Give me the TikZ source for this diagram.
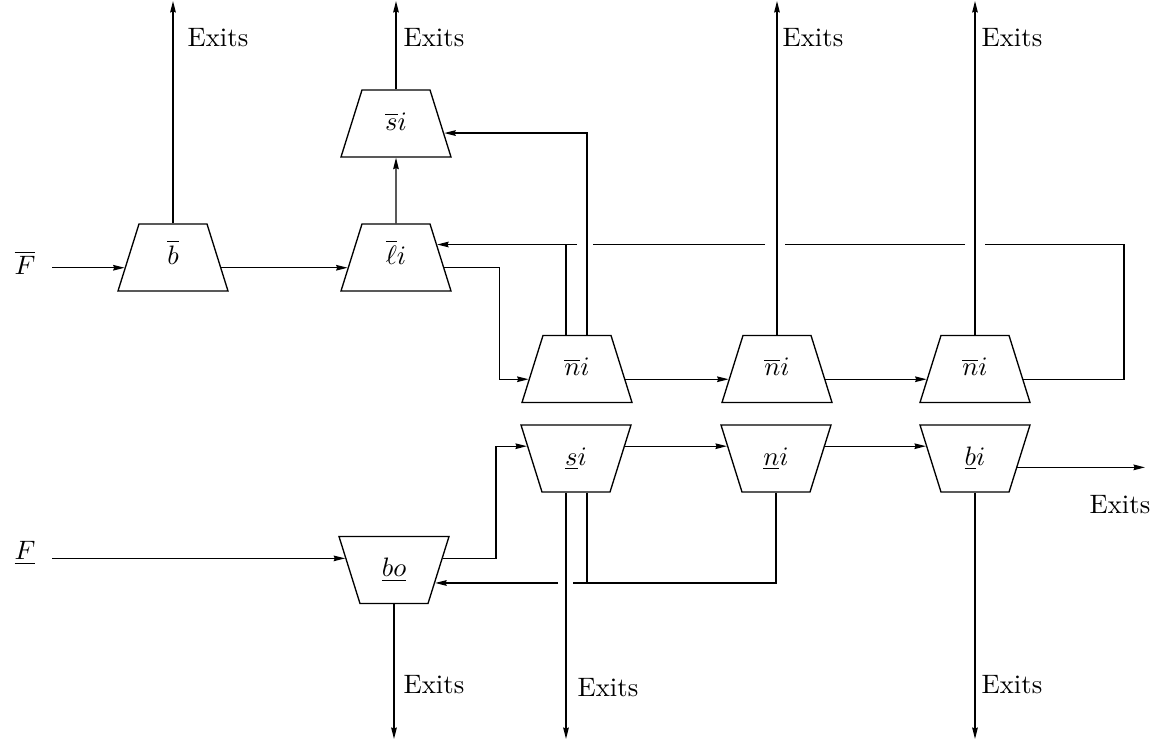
\documentclass[tikz,border=0pt]{standalone}
\usetikzlibrary{shapes.geometric,calc,arrows.meta}
\tikzset{
  upbox/.style={draw,trapezium,trapezium left angle=72.6,trapezium right angle=72.6,trapezium stretches body=true,minimum width=41.25pt,text height=7pt,text depth=2pt,inner xsep=0pt,inner ysep=8.06pt},
  downbox/.style={upbox,trapezium left angle=107.4,trapezium right angle=107.4}
}
\begin{document}
\begin{tikzpicture}[x=0.375pt,y=-0.375pt,>={Stealth[length=4.3pt,width=2.1pt,inset=0.4pt]},line width=0.5pt]
  \useasboundingbox (0,0) rectangle (1156,740);
  % upper row
  \node[upbox] (b) at (173,257.5) {$\overline{b}$};
  \node[upbox] (li) at (396,257.5) {$\overline{\ell}i$};
  \node[upbox] (si) at (396,123.5) {$\overline{s}i$};
  \node[upbox] (ni1) at (577,369) {$\overline{n}i$};
  \node[upbox] (ni2) at (777,369) {$\overline{n}i$};
  \node[upbox] (ni3) at (975,369) {$\overline{n}i$};
  % lower row
  \node[downbox] (usi) at (576,458.5) {$\underline{s}i$};
  \node[downbox] (uni) at (776,458.5) {$\underline{n}i$};
  \node[downbox] (ubi) at (975,458.5) {$\underline{b}i$};
  \node[downbox] (ubo) at (394,570) {$\underline{bo}$};
  \node (Fup) at (25,263) {$\overline{F}$};
  \node (Fdn) at (25,553) {$\underline{F}$};
  % points on the slanted sides
  \foreach \n in {b,li,ni1,ni2,ni3} {
    \coordinate (\n-l) at ($(\n.bottom left corner)!0.35!(\n.top left corner)$);
    \coordinate (\n-r) at ($(\n.bottom right corner)!0.35!(\n.top right corner)$);
  }
  \foreach \n in {usi,uni,ubi} {
    \coordinate (\n-l) at ($(\n.bottom left corner)!0.68!(\n.top left corner)$);
    \coordinate (\n-r) at ($(\n.bottom right corner)!0.68!(\n.top right corner)$);
  }
  \coordinate (li-fb) at ($(li.bottom right corner)!0.69!(li.top right corner)$);
  \coordinate (si-fb) at ($(si.bottom right corner)!0.36!(si.top right corner)$);
  \coordinate (ubi-x) at ($(ubi.bottom right corner)!0.37!(ubi.top right corner)$);
  \coordinate (ubo-l) at ($(ubo.bottom left corner)!0.67!(ubo.top left corner)$);
  \coordinate (ubo-r) at ($(ubo.bottom right corner)!0.67!(ubo.top right corner)$);
  \coordinate (ubo-fb) at ($(ubo.bottom right corner)!0.31!(ubo.top right corner)$);
  \coordinate (ni1-a) at ($(ni1.north)+(-11,0)$);
  \coordinate (ni1-c) at ($(ni1.north)+(10,0)$);
  \coordinate (usi-b1) at ($(usi.south)+(-10,0)$);
  \coordinate (usi-b2) at ($(usi.south)+(11,0)$);
  \coordinate (Fup-o) at (52,0 |- b-l);
  \coordinate (Fdn-o) at (52,0 |- ubo-l);
  % exits
  \draw[->] (b.north) -- (b.north |- 0,1);
  \draw[->] (si.north) -- (si.north |- 0,1);
  \draw[->] (ni2.north) -- (ni2.north |- 0,1);
  \draw[->] (ni3.north) -- (ni3.north |- 0,1);
  \draw[->] (ubo.south) -- (ubo.south |- 0,739);
  \draw[->] (usi-b1) -- (usi-b1 |- 0,739);
  \draw[->] (ubi.south) -- (ubi.south |- 0,739);
  \draw[->] (ubi-x) -- (1145,0 |- ubi-x);
  \node (e1) at (218,38) {Exits};
  \node (e2) at (434,38) {Exits};
  \node (e3) at (813,38) {Exits};
  \node (e4) at (1012,38) {Exits};
  \node (e5) at (1120,505) {Exits};
  \node (e6) at (434,685) {Exits};
  \node (e7) at (608,688) {Exits};
  \node (e8) at (1012,685) {Exits};
  % upper flow
  \draw[->] (Fup-o) -- (b-l);
  \draw[->] (b-r) -- (li-l);
  \draw[->] (li.north) -- (si.south);
  \draw[->] (li-r) -- ++(55,0) |- (ni1-l);
  \draw[->] (ni1-r) -- (ni2-l);
  \draw[->] (ni2-r) -- (ni3-l);
  \draw (ni3-r) -| (1124,0 |- li-fb) -- (985,0 |- li-fb);
  \draw (965,0 |- li-fb) -- (785,0 |- li-fb);
  \draw (765,0 |- li-fb) -- (593,0 |- li-fb);
  \draw[->] (577,0 |- li-fb) -- (li-fb);
  \draw (ni1-a) -- (ni1-a |- li-fb);
  \draw[->] (ni1-c) |- (si-fb);
  % lower flow
  \draw[->] (Fdn-o) -- (ubo-l);
  \draw[->] (ubo-r) -- ++(53,0) |- (usi-l);
  \draw[->] (usi-r) -- (uni-l);
  \draw[->] (uni-r) -- (ubi-l);
  \draw (uni.south) |- (573,0 |- ubo-fb);
  \draw (usi-b2) -- (usi-b2 |- ubo-fb);
  \draw[->] (558,0 |- ubo-fb) -- (ubo-fb);
\end{tikzpicture}
\end{document}
